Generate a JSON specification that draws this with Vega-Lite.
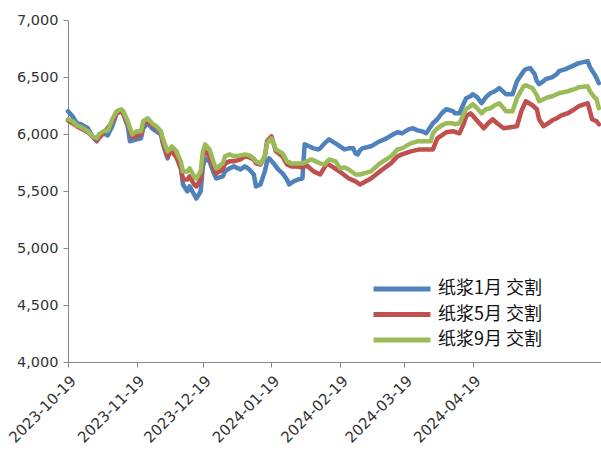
{
  "$schema": "https://vega.github.io/schema/vega-lite/v6.json",
  "width": 533,
  "height": 342,
  "autosize": {"type": "none"},
  "padding": {"left": 68, "top": 20, "right": 0, "bottom": 100},
  "background": "white",
  "config": {"view": {"stroke": null}},
  "data": {"values": [
    {"d":"2023-10-19","s":"纸浆1月 交割","v":6200},{"d":"2023-10-21","s":"纸浆1月 交割","v":6156},{"d":"2023-10-23","s":"纸浆1月 交割","v":6094},{"d":"2023-10-25","s":"纸浆1月 交割","v":6085},{"d":"2023-10-28","s":"纸浆1月 交割","v":6050},{"d":"2023-10-30","s":"纸浆1月 交割","v":5980},{"d":"2023-11-01","s":"纸浆1月 交割","v":5936},{"d":"2023-11-02","s":"纸浆1月 交割","v":5971},{"d":"2023-11-04","s":"纸浆1月 交割","v":6006},{"d":"2023-11-06","s":"纸浆1月 交割","v":5988},{"d":"2023-11-08","s":"纸浆1月 交割","v":6068},{"d":"2023-11-10","s":"纸浆1月 交割","v":6182},{"d":"2023-11-12","s":"纸浆1月 交割","v":6200},{"d":"2023-11-13","s":"纸浆1月 交割","v":6173},{"d":"2023-11-15","s":"纸浆1月 交割","v":6068},{"d":"2023-11-16","s":"纸浆1月 交割","v":5936},{"d":"2023-11-19","s":"纸浆1月 交割","v":5953},{"d":"2023-11-21","s":"纸浆1月 交割","v":5962},{"d":"2023-11-22","s":"纸浆1月 交割","v":6050},{"d":"2023-11-24","s":"纸浆1月 交割","v":6094},{"d":"2023-11-26","s":"纸浆1月 交割","v":6050},{"d":"2023-11-28","s":"纸浆1月 交割","v":6024},{"d":"2023-11-30","s":"纸浆1月 交割","v":5997},{"d":"2023-12-01","s":"纸浆1月 交割","v":5909},{"d":"2023-12-03","s":"纸浆1月 交割","v":5786},{"d":"2023-12-04","s":"纸浆1月 交割","v":5848},{"d":"2023-12-05","s":"纸浆1月 交割","v":5874},{"d":"2023-12-07","s":"纸浆1月 交割","v":5848},{"d":"2023-12-09","s":"纸浆1月 交割","v":5716},{"d":"2023-12-10","s":"纸浆1月 交割","v":5557},{"d":"2023-12-12","s":"纸浆1月 交割","v":5496},{"d":"2023-12-13","s":"纸浆1月 交割","v":5540},{"d":"2023-12-15","s":"纸浆1月 交割","v":5469},{"d":"2023-12-16","s":"纸浆1月 交割","v":5434},{"d":"2023-12-18","s":"纸浆1月 交割","v":5496},{"d":"2023-12-19","s":"纸浆1月 交割","v":5716},{"d":"2023-12-20","s":"纸浆1月 交割","v":5786},{"d":"2023-12-22","s":"纸浆1月 交割","v":5760},{"d":"2023-12-24","s":"纸浆1月 交割","v":5654},{"d":"2023-12-25","s":"纸浆1月 交割","v":5610},{"d":"2023-12-28","s":"纸浆1月 交割","v":5628},{"d":"2023-12-29","s":"纸浆1月 交割","v":5672},{"d":"2023-12-31","s":"纸浆1月 交割","v":5698},{"d":"2024-01-02","s":"纸浆1月 交割","v":5716},{"d":"2024-01-05","s":"纸浆1月 交割","v":5689},{"d":"2024-01-07","s":"纸浆1月 交割","v":5716},{"d":"2024-01-09","s":"纸浆1月 交割","v":5689},{"d":"2024-01-11","s":"纸浆1月 交割","v":5645},{"d":"2024-01-12","s":"纸浆1月 交割","v":5540},{"d":"2024-01-14","s":"纸浆1月 交割","v":5557},{"d":"2024-01-16","s":"纸浆1月 交割","v":5672},{"d":"2024-01-17","s":"纸浆1月 交割","v":5760},{"d":"2024-01-18","s":"纸浆1月 交割","v":5786},{"d":"2024-01-20","s":"纸浆1月 交割","v":5742},{"d":"2024-01-22","s":"纸浆1月 交割","v":5689},{"d":"2024-01-24","s":"纸浆1月 交割","v":5654},{"d":"2024-01-26","s":"纸浆1月 交割","v":5601},{"d":"2024-01-27","s":"纸浆1月 交割","v":5557},{"d":"2024-01-29","s":"纸浆1月 交割","v":5584},{"d":"2024-01-31","s":"纸浆1月 交割","v":5601},{"d":"2024-02-02","s":"纸浆1月 交割","v":5610},{"d":"2024-02-03","s":"纸浆1月 交割","v":5909},{"d":"2024-02-05","s":"纸浆1月 交割","v":5892},{"d":"2024-02-07","s":"纸浆1月 交割","v":5874},{"d":"2024-02-09","s":"纸浆1月 交割","v":5865},{"d":"2024-02-10","s":"纸浆1月 交割","v":5874},{"d":"2024-02-12","s":"纸浆1月 交割","v":5918},{"d":"2024-02-14","s":"纸浆1月 交割","v":5953},{"d":"2024-02-17","s":"纸浆1月 交割","v":5918},{"d":"2024-02-19","s":"纸浆1月 交割","v":5892},{"d":"2024-02-21","s":"纸浆1月 交割","v":5865},{"d":"2024-02-23","s":"纸浆1月 交割","v":5874},{"d":"2024-02-25","s":"纸浆1月 交割","v":5874},{"d":"2024-02-26","s":"纸浆1月 交割","v":5830},{"d":"2024-02-27","s":"纸浆1月 交割","v":5821},{"d":"2024-02-28","s":"纸浆1月 交割","v":5856},{"d":"2024-02-29","s":"纸浆1月 交割","v":5874},{"d":"2024-03-04","s":"纸浆1月 交割","v":5892},{"d":"2024-03-07","s":"纸浆1月 交割","v":5927},{"d":"2024-03-11","s":"纸浆1月 交割","v":5962},{"d":"2024-03-14","s":"纸浆1月 交割","v":5997},{"d":"2024-03-16","s":"纸浆1月 交割","v":6015},{"d":"2024-03-18","s":"纸浆1月 交割","v":6006},{"d":"2024-03-21","s":"纸浆1月 交割","v":6041},{"d":"2024-03-23","s":"纸浆1月 交割","v":6050},{"d":"2024-03-25","s":"纸浆1月 交割","v":6032},{"d":"2024-03-27","s":"纸浆1月 交割","v":6024},{"d":"2024-03-29","s":"纸浆1月 交割","v":6006},{"d":"2024-04-01","s":"纸浆1月 交割","v":6094},{"d":"2024-04-03","s":"纸浆1月 交割","v":6129},{"d":"2024-04-05","s":"纸浆1月 交割","v":6182},{"d":"2024-04-07","s":"纸浆1月 交割","v":6217},{"d":"2024-04-10","s":"纸浆1月 交割","v":6200},{"d":"2024-04-11","s":"纸浆1月 交割","v":6182},{"d":"2024-04-13","s":"纸浆1月 交割","v":6182},{"d":"2024-04-15","s":"纸浆1月 交割","v":6270},{"d":"2024-04-16","s":"纸浆1月 交割","v":6314},{"d":"2024-04-18","s":"纸浆1月 交割","v":6331},{"d":"2024-04-19","s":"纸浆1月 交割","v":6349},{"d":"2024-04-21","s":"纸浆1月 交割","v":6323},{"d":"2024-04-23","s":"纸浆1月 交割","v":6270},{"d":"2024-04-25","s":"纸浆1月 交割","v":6323},{"d":"2024-04-27","s":"纸浆1月 交割","v":6358},{"d":"2024-04-29","s":"纸浆1月 交割","v":6375},{"d":"2024-05-01","s":"纸浆1月 交割","v":6402},{"d":"2024-05-03","s":"纸浆1月 交割","v":6367},{"d":"2024-05-04","s":"纸浆1月 交割","v":6349},{"d":"2024-05-05","s":"纸浆1月 交割","v":6349},{"d":"2024-05-07","s":"纸浆1月 交割","v":6349},{"d":"2024-05-09","s":"纸浆1月 交割","v":6463},{"d":"2024-05-12","s":"纸浆1月 交割","v":6551},{"d":"2024-05-13","s":"纸浆1月 交割","v":6569},{"d":"2024-05-15","s":"纸浆1月 交割","v":6578},{"d":"2024-05-17","s":"纸浆1月 交割","v":6525},{"d":"2024-05-18","s":"纸浆1月 交割","v":6463},{"d":"2024-05-19","s":"纸浆1月 交割","v":6437},{"d":"2024-05-21","s":"纸浆1月 交割","v":6463},{"d":"2024-05-22","s":"纸浆1月 交割","v":6481},{"d":"2024-05-25","s":"纸浆1月 交割","v":6499},{"d":"2024-05-27","s":"纸浆1月 交割","v":6525},{"d":"2024-05-28","s":"纸浆1月 交割","v":6551},{"d":"2024-05-31","s":"纸浆1月 交割","v":6569},{"d":"2024-06-03","s":"纸浆1月 交割","v":6595},{"d":"2024-06-06","s":"纸浆1月 交割","v":6622},{"d":"2024-06-10","s":"纸浆1月 交割","v":6639},{"d":"2024-06-11","s":"纸浆1月 交割","v":6587},{"d":"2024-06-13","s":"纸浆1月 交割","v":6525},{"d":"2024-06-14","s":"纸浆1月 交割","v":6490},{"d":"2024-06-15","s":"纸浆1月 交割","v":6446},

    {"d":"2023-10-19","s":"纸浆5月 交割","v":6120},{"d":"2023-10-23","s":"纸浆5月 交割","v":6068},{"d":"2023-10-28","s":"纸浆5月 交割","v":6015},{"d":"2023-11-01","s":"纸浆5月 交割","v":5944},{"d":"2023-11-04","s":"纸浆5月 交割","v":6006},{"d":"2023-11-08","s":"纸浆5月 交割","v":6103},{"d":"2023-11-10","s":"纸浆5月 交割","v":6182},{"d":"2023-11-12","s":"纸浆5月 交割","v":6200},{"d":"2023-11-13","s":"纸浆5月 交割","v":6182},{"d":"2023-11-15","s":"纸浆5月 交割","v":6094},{"d":"2023-11-17","s":"纸浆5月 交割","v":5971},{"d":"2023-11-21","s":"纸浆5月 交割","v":5997},{"d":"2023-11-22","s":"纸浆5月 交割","v":6085},{"d":"2023-11-24","s":"纸浆5月 交割","v":6120},{"d":"2023-11-26","s":"纸浆5月 交割","v":6076},{"d":"2023-11-28","s":"纸浆5月 交割","v":6059},{"d":"2023-11-30","s":"纸浆5月 交割","v":6015},{"d":"2023-12-01","s":"纸浆5月 交割","v":5918},{"d":"2023-12-03","s":"纸浆5月 交割","v":5804},{"d":"2023-12-04","s":"纸浆5月 交割","v":5830},{"d":"2023-12-05","s":"纸浆5月 交割","v":5848},{"d":"2023-12-07","s":"纸浆5月 交割","v":5795},{"d":"2023-12-09","s":"纸浆5月 交割","v":5698},{"d":"2023-12-10","s":"纸浆5月 交割","v":5601},{"d":"2023-12-12","s":"纸浆5月 交割","v":5601},{"d":"2023-12-13","s":"纸浆5月 交割","v":5628},{"d":"2023-12-15","s":"纸浆5月 交割","v":5557},{"d":"2023-12-16","s":"纸浆5月 交割","v":5540},{"d":"2023-12-18","s":"纸浆5月 交割","v":5601},{"d":"2023-12-19","s":"纸浆5月 交割","v":5804},{"d":"2023-12-20","s":"纸浆5月 交割","v":5848},{"d":"2023-12-22","s":"纸浆5月 交割","v":5804},{"d":"2023-12-24","s":"纸浆5月 交割","v":5689},{"d":"2023-12-25","s":"纸浆5月 交割","v":5654},{"d":"2023-12-28","s":"纸浆5月 交割","v":5689},{"d":"2023-12-29","s":"纸浆5月 交割","v":5742},{"d":"2023-12-31","s":"纸浆5月 交割","v":5760},{"d":"2024-01-02","s":"纸浆5月 交割","v":5760},{"d":"2024-01-05","s":"纸浆5月 交割","v":5777},{"d":"2024-01-07","s":"纸浆5月 交割","v":5804},{"d":"2024-01-09","s":"纸浆5月 交割","v":5795},{"d":"2024-01-11","s":"纸浆5月 交割","v":5777},{"d":"2024-01-12","s":"纸浆5月 交割","v":5742},{"d":"2024-01-14","s":"纸浆5月 交割","v":5733},{"d":"2024-01-16","s":"纸浆5月 交割","v":5804},{"d":"2024-01-17","s":"纸浆5月 交割","v":5936},{"d":"2024-01-19","s":"纸浆5月 交割","v":5980},{"d":"2024-01-21","s":"纸浆5月 交割","v":5848},{"d":"2024-01-24","s":"纸浆5月 交割","v":5804},{"d":"2024-01-26","s":"纸浆5月 交割","v":5733},{"d":"2024-01-28","s":"纸浆5月 交割","v":5716},{"d":"2024-01-30","s":"纸浆5月 交割","v":5716},{"d":"2024-02-02","s":"纸浆5月 交割","v":5707},{"d":"2024-02-04","s":"纸浆5月 交割","v":5724},{"d":"2024-02-07","s":"纸浆5月 交割","v":5672},{"d":"2024-02-10","s":"纸浆5月 交割","v":5645},{"d":"2024-02-12","s":"纸浆5月 交割","v":5707},{"d":"2024-02-13","s":"纸浆5月 交割","v":5742},{"d":"2024-02-16","s":"纸浆5月 交割","v":5707},{"d":"2024-02-20","s":"纸浆5月 交割","v":5654},{"d":"2024-02-23","s":"纸浆5月 交割","v":5610},{"d":"2024-02-26","s":"纸浆5月 交割","v":5584},{"d":"2024-02-28","s":"纸浆5月 交割","v":5557},{"d":"2024-03-04","s":"纸浆5月 交割","v":5610},{"d":"2024-03-08","s":"纸浆5月 交割","v":5672},{"d":"2024-03-13","s":"纸浆5月 交割","v":5742},{"d":"2024-03-16","s":"纸浆5月 交割","v":5804},{"d":"2024-03-18","s":"纸浆5月 交割","v":5821},{"d":"2024-03-22","s":"纸浆5月 交割","v":5848},{"d":"2024-03-26","s":"纸浆5月 交割","v":5865},{"d":"2024-03-29","s":"纸浆5月 交割","v":5865},{"d":"2024-04-01","s":"纸浆5月 交割","v":5865},{"d":"2024-04-03","s":"纸浆5月 交割","v":5962},{"d":"2024-04-05","s":"纸浆5月 交割","v":5988},{"d":"2024-04-07","s":"纸浆5月 交割","v":6015},{"d":"2024-04-10","s":"纸浆5月 交割","v":6024},{"d":"2024-04-13","s":"纸浆5月 交割","v":6006},{"d":"2024-04-15","s":"纸浆5月 交割","v":6094},{"d":"2024-04-16","s":"纸浆5月 交割","v":6156},{"d":"2024-04-18","s":"纸浆5月 交割","v":6182},{"d":"2024-04-20","s":"纸浆5月 交割","v":6138},{"d":"2024-04-22","s":"纸浆5月 交割","v":6094},{"d":"2024-04-24","s":"纸浆5月 交割","v":6050},{"d":"2024-04-26","s":"纸浆5月 交割","v":6094},{"d":"2024-04-28","s":"纸浆5月 交割","v":6129},{"d":"2024-04-30","s":"纸浆5月 交割","v":6094},{"d":"2024-05-03","s":"纸浆5月 交割","v":6050},{"d":"2024-05-06","s":"纸浆5月 交割","v":6059},{"d":"2024-05-09","s":"纸浆5月 交割","v":6068},{"d":"2024-05-11","s":"纸浆5月 交割","v":6200},{"d":"2024-05-13","s":"纸浆5月 交割","v":6287},{"d":"2024-05-16","s":"纸浆5月 交割","v":6252},{"d":"2024-05-18","s":"纸浆5月 交割","v":6217},{"d":"2024-05-19","s":"纸浆5月 交割","v":6129},{"d":"2024-05-21","s":"纸浆5月 交割","v":6068},{"d":"2024-05-23","s":"纸浆5月 交割","v":6094},{"d":"2024-05-25","s":"纸浆5月 交割","v":6120},{"d":"2024-05-27","s":"纸浆5月 交割","v":6138},{"d":"2024-05-29","s":"纸浆5月 交割","v":6164},{"d":"2024-06-01","s":"纸浆5月 交割","v":6182},{"d":"2024-06-04","s":"纸浆5月 交割","v":6217},{"d":"2024-06-06","s":"纸浆5月 交割","v":6244},{"d":"2024-06-10","s":"纸浆5月 交割","v":6270},{"d":"2024-06-11","s":"纸浆5月 交割","v":6200},{"d":"2024-06-12","s":"纸浆5月 交割","v":6129},{"d":"2024-06-14","s":"纸浆5月 交割","v":6112},{"d":"2024-06-15","s":"纸浆5月 交割","v":6085},

    {"d":"2023-10-19","s":"纸浆9月 交割","v":6129},{"d":"2023-10-21","s":"纸浆9月 交割","v":6112},{"d":"2023-10-23","s":"纸浆9月 交割","v":6076},{"d":"2023-10-25","s":"纸浆9月 交割","v":6059},{"d":"2023-10-28","s":"纸浆9月 交割","v":6024},{"d":"2023-10-30","s":"纸浆9月 交割","v":5980},{"d":"2023-11-01","s":"纸浆9月 交割","v":5962},{"d":"2023-11-02","s":"纸浆9月 交割","v":5997},{"d":"2023-11-04","s":"纸浆9月 交割","v":6024},{"d":"2023-11-06","s":"纸浆9月 交割","v":6032},{"d":"2023-11-08","s":"纸浆9月 交割","v":6129},{"d":"2023-11-10","s":"纸浆9月 交割","v":6200},{"d":"2023-11-12","s":"纸浆9月 交割","v":6217},{"d":"2023-11-13","s":"纸浆9月 交割","v":6200},{"d":"2023-11-15","s":"纸浆9月 交割","v":6112},{"d":"2023-11-17","s":"纸浆9月 交割","v":5997},{"d":"2023-11-19","s":"纸浆9月 交割","v":6024},{"d":"2023-11-21","s":"纸浆9月 交割","v":6024},{"d":"2023-11-22","s":"纸浆9月 交割","v":6112},{"d":"2023-11-24","s":"纸浆9月 交割","v":6138},{"d":"2023-11-26","s":"纸浆9月 交割","v":6094},{"d":"2023-11-28","s":"纸浆9月 交割","v":6068},{"d":"2023-11-30","s":"纸浆9月 交割","v":6024},{"d":"2023-12-01","s":"纸浆9月 交割","v":5953},{"d":"2023-12-03","s":"纸浆9月 交割","v":5848},{"d":"2023-12-04","s":"纸浆9月 交割","v":5865},{"d":"2023-12-05","s":"纸浆9月 交割","v":5892},{"d":"2023-12-07","s":"纸浆9月 交割","v":5848},{"d":"2023-12-09","s":"纸浆9月 交割","v":5760},{"d":"2023-12-10","s":"纸浆9月 交割","v":5672},{"d":"2023-12-12","s":"纸浆9月 交割","v":5672},{"d":"2023-12-13","s":"纸浆9月 交割","v":5698},{"d":"2023-12-15","s":"纸浆9月 交割","v":5628},{"d":"2023-12-16","s":"纸浆9月 交割","v":5610},{"d":"2023-12-18","s":"纸浆9月 交割","v":5672},{"d":"2023-12-19","s":"纸浆9月 交割","v":5848},{"d":"2023-12-20","s":"纸浆9月 交割","v":5909},{"d":"2023-12-22","s":"纸浆9月 交割","v":5865},{"d":"2023-12-24","s":"纸浆9月 交割","v":5742},{"d":"2023-12-25","s":"纸浆9月 交割","v":5698},{"d":"2023-12-28","s":"纸浆9月 交割","v":5742},{"d":"2023-12-29","s":"纸浆9月 交割","v":5804},{"d":"2023-12-31","s":"纸浆9月 交割","v":5821},{"d":"2024-01-02","s":"纸浆9月 交割","v":5804},{"d":"2024-01-05","s":"纸浆9月 交割","v":5812},{"d":"2024-01-07","s":"纸浆9月 交割","v":5821},{"d":"2024-01-09","s":"纸浆9月 交割","v":5812},{"d":"2024-01-11","s":"纸浆9月 交割","v":5786},{"d":"2024-01-12","s":"纸浆9月 交割","v":5760},{"d":"2024-01-14","s":"纸浆9月 交割","v":5742},{"d":"2024-01-16","s":"纸浆9月 交割","v":5804},{"d":"2024-01-17","s":"纸浆9月 交割","v":5918},{"d":"2024-01-19","s":"纸浆9月 交割","v":5962},{"d":"2024-01-21","s":"纸浆9月 交割","v":5865},{"d":"2024-01-24","s":"纸浆9月 交割","v":5830},{"d":"2024-01-26","s":"纸浆9月 交割","v":5760},{"d":"2024-01-28","s":"纸浆9月 交割","v":5742},{"d":"2024-01-30","s":"纸浆9月 交割","v":5742},{"d":"2024-02-02","s":"纸浆9月 交割","v":5742},{"d":"2024-02-04","s":"纸浆9月 交割","v":5760},{"d":"2024-02-06","s":"纸浆9月 交割","v":5777},{"d":"2024-02-08","s":"纸浆9月 交割","v":5760},{"d":"2024-02-10","s":"纸浆9月 交割","v":5742},{"d":"2024-02-12","s":"纸浆9月 交割","v":5733},{"d":"2024-02-14","s":"纸浆9月 交割","v":5777},{"d":"2024-02-17","s":"纸浆9月 交割","v":5760},{"d":"2024-02-19","s":"纸浆9月 交割","v":5698},{"d":"2024-02-21","s":"纸浆9月 交割","v":5707},{"d":"2024-02-23","s":"纸浆9月 交割","v":5689},{"d":"2024-02-26","s":"纸浆9月 交割","v":5645},{"d":"2024-02-28","s":"纸浆9月 交割","v":5645},{"d":"2024-03-04","s":"纸浆9月 交割","v":5672},{"d":"2024-03-08","s":"纸浆9月 交割","v":5742},{"d":"2024-03-13","s":"纸浆9月 交割","v":5804},{"d":"2024-03-16","s":"纸浆9月 交割","v":5865},{"d":"2024-03-18","s":"纸浆9月 交割","v":5874},{"d":"2024-03-22","s":"纸浆9月 交割","v":5918},{"d":"2024-03-25","s":"纸浆9月 交割","v":5936},{"d":"2024-03-27","s":"纸浆9月 交割","v":5936},{"d":"2024-03-31","s":"纸浆9月 交割","v":5936},{"d":"2024-04-01","s":"纸浆9月 交割","v":6006},{"d":"2024-04-03","s":"纸浆9月 交割","v":6050},{"d":"2024-04-05","s":"纸浆9月 交割","v":6076},{"d":"2024-04-07","s":"纸浆9月 交割","v":6094},{"d":"2024-04-10","s":"纸浆9月 交割","v":6094},{"d":"2024-04-11","s":"纸浆9月 交割","v":6085},{"d":"2024-04-13","s":"纸浆9月 交割","v":6094},{"d":"2024-04-15","s":"纸浆9月 交割","v":6182},{"d":"2024-04-16","s":"纸浆9月 交割","v":6217},{"d":"2024-04-18","s":"纸浆9月 交割","v":6244},{"d":"2024-04-19","s":"纸浆9月 交割","v":6261},{"d":"2024-04-21","s":"纸浆9月 交割","v":6226},{"d":"2024-04-23","s":"纸浆9月 交割","v":6182},{"d":"2024-04-25","s":"纸浆9月 交割","v":6217},{"d":"2024-04-27","s":"纸浆9月 交割","v":6226},{"d":"2024-04-29","s":"纸浆9月 交割","v":6252},{"d":"2024-05-01","s":"纸浆9月 交割","v":6270},{"d":"2024-05-03","s":"纸浆9月 交割","v":6226},{"d":"2024-05-04","s":"纸浆9月 交割","v":6200},{"d":"2024-05-05","s":"纸浆9月 交割","v":6200},{"d":"2024-05-07","s":"纸浆9月 交割","v":6200},{"d":"2024-05-09","s":"纸浆9月 交割","v":6314},{"d":"2024-05-12","s":"纸浆9月 交割","v":6419},{"d":"2024-05-13","s":"纸浆9月 交割","v":6428},{"d":"2024-05-16","s":"纸浆9月 交割","v":6402},{"d":"2024-05-18","s":"纸浆9月 交割","v":6340},{"d":"2024-05-19","s":"纸浆9月 交割","v":6287},{"d":"2024-05-21","s":"纸浆9月 交割","v":6305},{"d":"2024-05-23","s":"纸浆9月 交割","v":6323},{"d":"2024-05-25","s":"纸浆9月 交割","v":6331},{"d":"2024-05-28","s":"纸浆9月 交割","v":6358},{"d":"2024-06-01","s":"纸浆9月 交割","v":6375},{"d":"2024-06-04","s":"纸浆9月 交割","v":6393},{"d":"2024-06-06","s":"纸浆9月 交割","v":6411},{"d":"2024-06-10","s":"纸浆9月 交割","v":6419},{"d":"2024-06-11","s":"纸浆9月 交割","v":6375},{"d":"2024-06-13","s":"纸浆9月 交割","v":6323},{"d":"2024-06-14","s":"纸浆9月 交割","v":6305},{"d":"2024-06-15","s":"纸浆9月 交割","v":6226}
  ]},
  "mark": {"type": "line", "strokeWidth": 4.5, "strokeJoin": "round", "strokeCap": "round"},
  "encoding": {
    "x": {
      "field": "d", "type": "temporal",
      "scale": {"type": "utc", "domain": [{"year": 2023, "month": 10, "date": 19, "utc": true}, {"year": 2024, "month": 6, "date": 16, "utc": true}]},
      "axis": {
        "title": null, "grid": false,
        "values": [
          {"year": 2023, "month": 10, "date": 19, "utc": true},
          {"year": 2023, "month": 11, "date": 19, "utc": true},
          {"year": 2023, "month": 12, "date": 19, "utc": true},
          {"year": 2024, "month": 1, "date": 19, "utc": true},
          {"year": 2024, "month": 2, "date": 19, "utc": true},
          {"year": 2024, "month": 3, "date": 19, "utc": true},
          {"year": 2024, "month": 4, "date": 19, "utc": true}
        ],
        "labelExpr": "utcFormat(datum.value, '%Y-%m-%d')",
        "labelAngle": -45, "labelFont": "DejaVu Sans", "labelFontSize": 15, "labelColor": "#333333",
        "labelOverlap": false, "labelFlush": false, "labelPadding": 6, "labelDx": 0, "labelDy": 12,
        "domainColor": "#868686", "tickColor": "#868686", "tickSize": 5
      }
    },
    "y": {
      "field": "v", "type": "quantitative",
      "scale": {"domain": [4000, 7000], "nice": false, "zero": false},
      "axis": {
        "title": null, "grid": false,
        "values": [4000, 4500, 5000, 5500, 6000, 6500, 7000],
        "format": ",.0f", "labelFont": "DejaVu Sans", "labelFontSize": 14.5, "labelColor": "#333333",
        "labelPadding": 5, "domainColor": "#868686", "tickColor": "#868686", "tickSize": 5
      }
    },
    "color": {
      "field": "s", "type": "nominal",
      "scale": {"domain": ["纸浆1月 交割", "纸浆5月 交割", "纸浆9月 交割"], "range": ["#4F81BD", "#C0504D", "#9BBB59"]},
      "legend": {
        "title": null, "orient": "none", "legendX": 322, "legendY": 257,
        "symbolType": "M-3,0H3", "symbolSize": 361, "symbolStrokeWidth": 5,
        "labelFont": "Noto Sans CJK SC", "labelFontSize": 18, "labelColor": "#111111",
        "labelOffset": 24, "rowPadding": 3.5, "padding": 0
      }
    }
  }
}
